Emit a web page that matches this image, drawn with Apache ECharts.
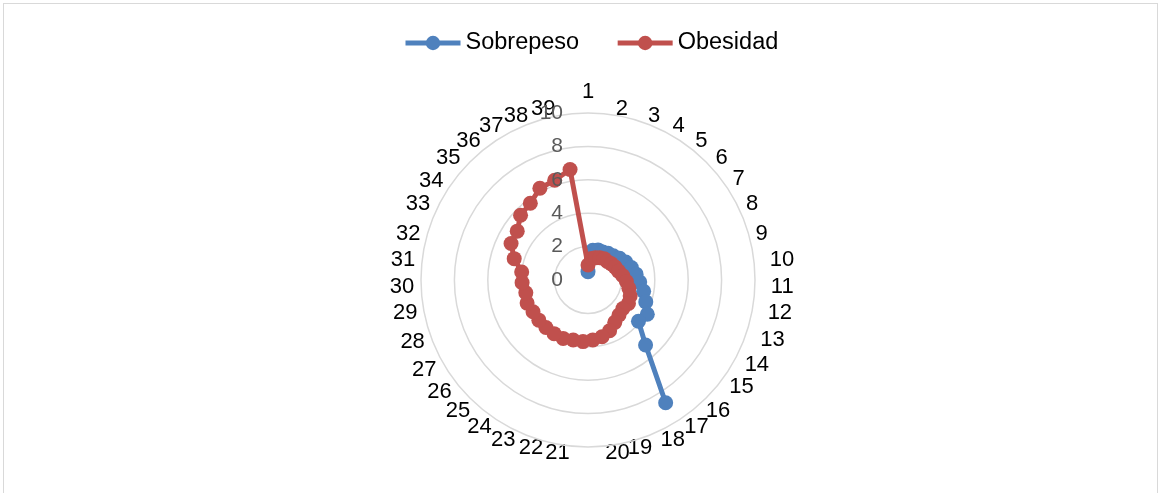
<!DOCTYPE html>
<html>
<head>
<meta charset="utf-8">
<script src="https://cdn.jsdelivr.net/npm/echarts@6/dist/echarts.min.js"></script>
<style>
  html, body { margin: 0; padding: 0; background: #fff; }
  #frame { position: absolute; left: 3px; top: 3px; width: 1155px; height: 492px; border: 1px solid #d9d9d9; box-sizing: border-box; }
  #chart { position: absolute; left: 0; top: 0; width: 1164px; height: 493px; }
</style>
</head>
<body>
<div id="frame"></div>
<div id="chart"></div>
<script>
// Categories 1..39 around the circle
const categories = ['1','2','3','4','5','6','7','8','9','10','11','12','13','14','15','16','17','18','19','20',
  '21','22','23','24','25','26','27','28','29','30','31','32','33','34','35','36','37','38','39'];

// Sobrepeso: values only for the first 17 categories
const sobrepeso = [0.5, 1.8, 1.9, 1.9, 2.0, 2.1, 2.3, 2.5, 2.7, 2.9, 3.1, 3.4, 3.7, 4.1, 3.9, 5.2, 8.7,
  null, null, null, null, null, null, null, null, null, null, null, null, null, null, null, null, null, null, null, null, null, null];

// Obesidad: all 39 categories
const obesidad = [0.9, 1.3, 1.4, 1.5, 1.6, 1.6, 1.7, 1.8, 1.9, 2.1, 2.3, 2.5, 2.7, 2.8, 2.7, 2.8, 3.0, 3.3, 3.5, 3.6,
  3.7, 3.7, 3.8, 3.8, 3.8, 3.8, 3.8, 3.9, 3.8, 3.95, 4.0, 4.6, 5.1, 5.15, 5.6, 5.75, 6.2, 6.3, 6.7];

const radiusTicks = { min: 0, max: 10, interval: 2 };

const BLUE = '#4F81BD';
const RED = '#C0504D';
const FONT = 'Liberation Sans, Arial, sans-serif';
const LABEL_SIZE = 22;

const CENTER = [588, 280];
const RADIUS = 167;

// categories sit in the middle of their bands; rotate so that "1" is straight up
const halfBand = 360 / categories.length / 2;

// small per-label nudges for the category ring (rich token styles)
const tok = (padding, lineHeight) => ({ fontSize: LABEL_SIZE, color: '#000', fontFamily: FONT, lineHeight: lineHeight || 12, padding });
const labelRich = {
  up: tok([0, 0, 0, 0], 42),
  r5: tok([0, 0, 0, 5], 2),
  r7: tok([0, 0, 0, 14]),
  r9: tok([0, 0, 0, 9]),
  r9u: tok([0, 0, 0, 9], 2),
  r12: tok([0, 0, 0, 24]),
  r16: tok([0, 0, 0, 32]),
  l17: tok([0, 34, 0, 0]),
  l18: tok([0, 36, 0, 0]),
  dn: tok([0, 0, 0, 0], 8),
  u3: tok([0, 0, 0, 0], 6)
};
const labelTok = { '1': 'up', '2': 'r7', '8': 'dn', '10': 'r9', '11': 'r9', '12': 'r9', '13': 'r9u', '14': 'r5', '15': 'r5',
  '19': 'r12', '20': 'r16', '21': 'l17', '22': 'l17', '28': 'u3', '33': 'dn', '34': 'dn', '39': 'l18' };

// closing segment of the Obesidad loop: last category back to the first
const last = obesidad.length - 1;
const closing = [[obesidad[last], last], [obesidad[0], 0]];

const chart = echarts.init(document.getElementById('chart'), null, { renderer: 'canvas' });

chart.setOption({
  animation: false,
  textStyle: { fontFamily: FONT },
  legend: {
    data: ['Sobrepeso', 'Obesidad'],
    top: 26,
    left: 398,
    itemWidth: 55,
    itemHeight: 18,
    itemGap: 36,
    lineStyle: { width: 5 },
    textStyle: { fontSize: 23.5, color: '#000', fontFamily: FONT }
  },
  // polar 0 carries the data; polar 1 only holds the vertical value scale labels
  polar: [
    { center: CENTER, radius: RADIUS },
    { center: CENTER, radius: RADIUS }
  ],
  angleAxis: [
    {
      polarIndex: 0,
      type: 'category',
      data: categories,
      boundaryGap: true,
      startAngle: 90 + halfBand,
      clockwise: true,
      axisLine: { show: false },
      axisTick: { show: false },
      splitLine: { show: false },
      axisLabel: {
        fontSize: LABEL_SIZE,
        color: '#000',
        margin: 0,
        interval: 0,
        lineHeight: 12,
        padding: [0, 7],
        formatter: (v) => labelTok[v] ? '{' + labelTok[v] + '|' + v + '}' : v,
        rich: labelRich
      }
    },
    {
      polarIndex: 1,
      type: 'value',
      startAngle: 90,
      show: false
    }
  ],
  radiusAxis: [
    {
      polarIndex: 0,
      type: 'value',
      min: radiusTicks.min,
      max: radiusTicks.max,
      interval: radiusTicks.interval,
      axisLine: { show: false },
      axisTick: { show: false },
      axisLabel: { show: false },
      splitLine: { show: true, lineStyle: { color: '#d9d9d9', width: 1.5 } },
      z: 1
    },
    {
      polarIndex: 1,
      type: 'value',
      min: radiusTicks.min,
      max: radiusTicks.max,
      interval: radiusTicks.interval,
      axisLine: { show: false },
      axisTick: { show: false },
      splitLine: { show: false },
      axisLabel: { fontSize: 21, color: '#595959', margin: 25 },
      zlevel: 1,
      z: 10
    }
  ],
  series: [
    {
      name: 'Sobrepeso',
      type: 'line',
      coordinateSystem: 'polar',
      polarIndex: 0,
      data: sobrepeso,
      connectNulls: false,
      symbol: 'circle',
      symbolSize: 15,
      itemStyle: { color: BLUE },
      lineStyle: { color: BLUE, width: 5 },
      z: 3
    },
    {
      name: 'Obesidad',
      type: 'line',
      coordinateSystem: 'polar',
      polarIndex: 0,
      data: obesidad,
      symbol: 'circle',
      symbolSize: 15,
      itemStyle: { color: RED },
      lineStyle: { color: RED, width: 5 },
      z: 4
    },
    {
      name: 'ObesidadCierre',
      type: 'line',
      coordinateSystem: 'polar',
      polarIndex: 0,
      data: closing,
      symbol: 'none',
      silent: true,
      itemStyle: { color: RED },
      lineStyle: { color: RED, width: 5 },
      z: 4
    }
  ]
});
</script>
</body>
</html>
